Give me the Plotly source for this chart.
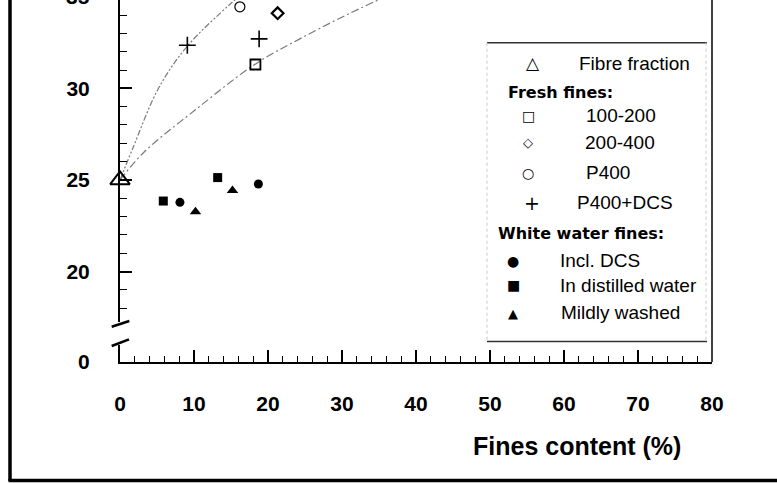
import plotly.graph_objects as go

# ---------------- data ----------------
fibre_x = [0.0]
fibre_y = [25.0]
f100_x = [18.3]
f100_y = [31.3]
f200_x = [21.3]
f200_y = [34.1]
p400_x = [16.2]
p400_y = [34.45]
p400dcs_x = [9.1, 18.8]
p400dcs_y = [32.35, 32.7]
incl_x = [8.1, 18.7]
incl_y = [23.78, 24.78]
dist_x = [5.85, 13.2]
dist_y = [23.85, 25.13]
mild_x = [10.2, 15.2]
mild_y = [23.27, 24.42]
fit1_x = [0.0, 1.8, 5.2, 9.1, 14.9, 17.5]
fit1_y = [25.0, 26.8, 30.0, 32.3, 34.6, 35.5]
fit2_x = [0.0, 3.2, 10.1, 18.2, 24.3, 31.1, 38.0]
fit2_y = [25.0, 26.5, 28.8, 31.3, 32.7, 34.1, 35.4]

x_ticks = [0, 10, 20, 30, 40, 50, 60, 70, 80]
y_ticks = [20, 25, 30]
x_title = "Fines content (%)"

# ---------------- geometry helpers (pixels -> paper) ----------------
W, H = 777, 483
L, R, T, B = 120, 712, 0, 362


def px(x):
    return (x - L) / (R - L)


def py(y):
    return (B - y) / (B - T)


ARIAL = "Liberation Sans, Arial, sans-serif"
DEJAVU = "DejaVu Sans, sans-serif"

fig = go.Figure()

fig.add_trace(go.Scatter(x=fit1_x, y=fit1_y, mode="lines", name="Fit P400+DCS",
                         line=dict(color="#7a7a7a", width=1.2, shape="spline",
                                   dash="6px,2px,2px,2px,2px,2px"),
                         showlegend=False, hoverinfo="skip"))
fig.add_trace(go.Scatter(x=fit2_x, y=fit2_y, mode="lines", name="Fit 100-200",
                         line=dict(color="#7a7a7a", width=1.2, shape="spline",
                                   dash="8px,3px,2px,3px"),
                         showlegend=False, hoverinfo="skip"))

def pts(x, y, name, symbol, size, lw=1.5, color="black"):
    fig.add_trace(go.Scatter(
        x=x, y=y, mode="markers", name=name, showlegend=False, cliponaxis=False,
        marker=dict(symbol=symbol, size=size, color=color,
                    line=dict(color="black", width=lw))))

pts(fibre_x, fibre_y, "Fibre fraction", "triangle-up-open", 17, 2.0)
pts(f100_x, f100_y, "100-200", "square-open", 10, 1.8)
pts(f200_x, f200_y, "200-400", "diamond-open", 9, 2.2)
pts(p400_x, p400_y, "P400", "circle-open", 10, 1.2)
pts(p400dcs_x, p400dcs_y, "P400+DCS", "cross-thin", 12, 1.6)
pts(incl_x, incl_y, "Incl. DCS", "circle", 9, 0)
pts(dist_x, dist_y, "In distilled water", "square", 9, 0)
pts(mild_x, mild_y, "Mildly washed", "triangle-up", 10, 0)

# empty trace that registers the lower (broken) y-axis segment
fig.add_trace(go.Scatter(x=[], y=[], xaxis="x", yaxis="y2", mode="markers",
                         showlegend=False, hoverinfo="skip", name="axis"))

# ---------------- shapes ----------------
shapes = []
# right frame line of the plot
shapes.append(dict(type="line", xref="paper", yref="paper", x0=1, x1=1,
                   y0=0, y1=1.02, line=dict(color="black", width=1.5)))
# axis break slashes
for (xa, ya, xb, yb) in [(111.7, 326.7, 129.3, 321.0), (111.7, 346.0, 129.0, 339.3)]:
    shapes.append(dict(type="line", xref="paper", yref="paper",
                       x0=px(xa), y0=py(ya), x1=px(xb), y1=py(yb),
                       line=dict(color="black", width=2.5)))
# legend box
shapes.append(dict(type="line", xref="paper", yref="paper", x0=px(487), x1=px(707),
                   y0=py(42.7), y1=py(42.7), line=dict(color="#333", width=1.5)))
shapes.append(dict(type="line", xref="paper", yref="paper", x0=px(487), x1=px(707),
                   y0=py(341.5), y1=py(341.5), line=dict(color="#333", width=1.5)))
for xx in (487, 706):
    shapes.append(dict(type="line", xref="paper", yref="paper", x0=px(xx), x1=px(xx),
                       y0=py(42.7), y1=py(341.5),
                       line=dict(color="#c8c8c8", width=1, dash="dot")))
# outer frame (left and bottom)
shapes.append(dict(type="line", xref="paper", yref="paper", x0=px(10), x1=px(10),
                   y0=py(481), y1=py(-5), line=dict(color="black", width=3.5)))
shapes.append(dict(type="line", xref="paper", yref="paper", x0=px(8.5), x1=px(780),
                   y0=py(480.5), y1=py(480.5), line=dict(color="black", width=3.5)))

# ---------------- annotations ----------------
ann = []
# clipped "35" tick label at the top edge (the reference crops it as well)
ann.append(dict(text="35", xref="paper", yref="paper", x=px(92), y=py(-3.3),
                xanchor="right", yanchor="middle", showarrow=False,
                font=dict(family=ARIAL, size=21, color="black", weight="bold")))
# x axis title
ann.append(dict(text=x_title, xref="paper", yref="paper", x=px(576.5), y=py(446),
                xanchor="center", yanchor="middle", showarrow=False,
                font=dict(family=ARIAL, size=25, color="black", weight="bold")))

legend_items = [
    # (glyph, gx, gy, gsize, label, lx, ly, kind)
    ("\u25B3", 533.3, 63.3, 17, "Fibre fraction", 578.3, 63.3, "item"),
    (None, 0, 0, 0, "Fresh fines:", 506.7, 92.7, "head"),
    ("\u25A1", 528.3, 116.0, 14, "100-200", 585.0, 116.0, "item"),
    ("\u25C7", 528.3, 142.5, 13, "200-400", 584.0, 142.0, "item"),
    ("\u25CB", 528.3, 172.5, 14, "P400", 585.0, 172.0, "item"),
    ("+", 531.7, 203.0, 19, "P400+DCS", 575.7, 202.5, "item"),
    (None, 0, 0, 0, "White water fines:", 496.7, 233.3, "head"),
    ("\u25CF", 513.3, 261.0, 14, "Incl. DCS", 559.0, 260.5, "item"),
    ("\u25A0", 513.3, 285.0, 14, "In distilled water", 559.0, 285.0, "item"),
    ("\u25B2", 513.3, 313.0, 13, "Mildly washed", 560.0, 312.0, "item"),
]
for g, gx, gy, gs, lab, lx, ly, kind in legend_items:
    if g is not None:
        ann.append(dict(text=g, xref="paper", yref="paper", x=px(gx), y=py(gy),
                        xanchor="center", yanchor="middle", showarrow=False,
                        font=dict(family=DEJAVU, size=gs, color="black")))
    if kind == "head":
        f = dict(family=DEJAVU, size=16, color="black", weight="bold")
    else:
        f = dict(family=ARIAL, size=19, color="black")
    ann.append(dict(text=lab, xref="paper", yref="paper", x=px(lx - 1), y=py(ly),
                    xanchor="left", yanchor="middle", showarrow=False, font=f))

tickfont = dict(family=ARIAL, size=21, color="black", weight="bold")

fig.update_layout(
    width=W, height=H,
    margin=dict(l=L, r=W - R, t=T, b=H - B, pad=0),
    paper_bgcolor="white", plot_bgcolor="white",
    showlegend=False,
    font=dict(family=ARIAL, color="black"),
    xaxis=dict(domain=[0, 1], anchor="y2", range=[0, 80],
               tickmode="array", tickvals=x_ticks, ticktext=[str(v) for v in x_ticks],
               ticks="inside", ticklen=12, tickwidth=1.5, tickcolor="black",
               minor=dict(ticks="inside", ticklen=6, tickwidth=1.3, tickcolor="black",
                          dtick=2, tick0=0, showgrid=False),
               showline=True, linewidth=2, linecolor="black",
               showgrid=False, zeroline=False, tickfont=tickfont,
               ticklabelstandoff=22),
    yaxis=dict(domain=[py(322), 1], anchor="x", range=[17.25, 34.82],
               tickmode="linear", tick0=0, dtick=5,
               ticks="inside", ticklen=12, tickwidth=1.5, tickcolor="black",
               minor=dict(ticks="inside", ticklen=7, tickwidth=1.3, tickcolor="black",
                          dtick=1, tick0=0, showgrid=False),
               showline=True, linewidth=2, linecolor="black",
               showgrid=False, zeroline=False, tickfont=tickfont,
               ticklabelstandoff=24),
    yaxis2=dict(domain=[0, py(345)], anchor="x", range=[0, 1],
                tickmode="array", tickvals=[0], ticktext=["0"], ticks="",
                showline=True, linewidth=2, linecolor="black",
                showgrid=False, zeroline=False, tickfont=tickfont,
                ticklabelstandoff=24),
    shapes=shapes,
    annotations=ann,
)

fig.write_html("out.html",
               config={"displayModeBar": False},
               post_script="document.body.style.margin='0';"
                           "document.body.style.overflow='hidden';")
